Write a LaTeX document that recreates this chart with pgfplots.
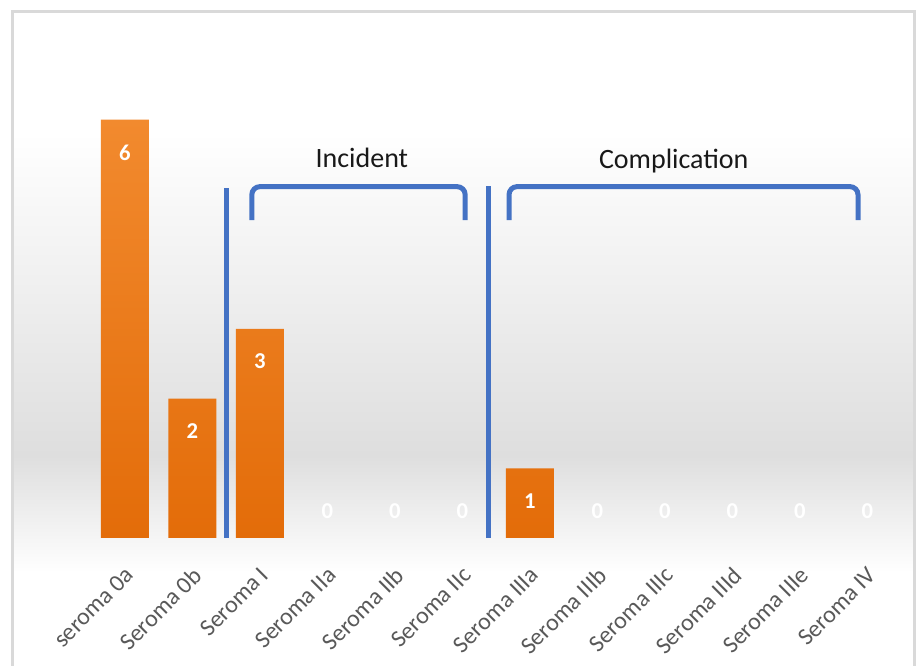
\documentclass[border=0pt]{standalone}
\usepackage{pgfplots}
\pgfplotsset{compat=1.18}
\usepackage{fontspec}
\setmainfont{Carlito}
\definecolor{barTop}{HTML}{F28A2E}
\definecolor{barBot}{HTML}{E36C09}
\definecolor{blueC}{HTML}{4472C4}
\definecolor{tickC}{HTML}{595959}
\definecolor{bgGray}{HTML}{DEDEDE}
\definecolor{frameC}{HTML}{D9D9D9}
\begin{document}
\begin{tikzpicture}
\fill[white] (0,0) rectangle (687pt,499.5pt);
\shade[top color=white, bottom color=bgGray] (9pt,158pt) rectangle (685.5pt,400pt);
\shade[top color=bgGray, bottom color=white] (9pt,70pt) rectangle (685.5pt,158pt);
\draw[frameC, line width=2.25pt] (9pt,-10pt) -- (9pt,490.5pt) -- (685.5pt,490.5pt) -- (685.5pt,-10pt);
\begin{axis}[
  at={(68.4pt,96pt)}, anchor=south west,
  scale only axis, width=607.5pt, height=366pt,
  xmin=-0.5, xmax=11.5, ymin=0, ymax=7,
  axis line style={draw=none}, tick style={draw=none},
  ytick=\empty,
  xtick={0,...,11},
  xticklabels={seroma 0a, Seroma 0b, Seroma I, Seroma IIa, Seroma IIb, Seroma IIc, Seroma IIIa, Seroma IIIb, Seroma IIIc, Seroma IIId, Seroma IIIe, Seroma IV},
  xticklabel style={rotate=45, anchor=north east, font=\fontsize{18}{20}\selectfont, text=tickC, inner sep=0pt, xshift=-15pt, yshift=-14pt},
  /pgf/number format/assume math mode=true,
  clip=false,
]
\addplot[ybar, bar width=0.711, draw=none, top color=barTop, bottom color=barBot,
  nodes near coords,
  nodes near coords style={anchor=north, yshift=-18.75pt, inner sep=0pt, text=white, font=\bfseries\fontsize{17}{20}\selectfont}]
  coordinates {(0,6) (1,2) (2,3) (6,1)};
\addplot[draw=none, mark=none,
  nodes near coords,
  nodes near coords style={anchor=south, yshift=14pt, inner sep=0pt, text=white, font=\bfseries\fontsize{17}{20}\selectfont}]
  coordinates {(3,0) (4,0) (5,0) (7,0) (8,0) (9,0) (10,0) (11,0)};
% separators
\addplot[blueC, line width=3.75pt, line cap=butt] coordinates {(1.50,0) (1.50,5.02)};
\addplot[blueC, line width=3.75pt, line cap=butt] coordinates {(5.38,0) (5.38,5.05)};
% brackets
\addplot[blueC, line width=3.75pt, rounded corners=6pt] coordinates {(1.88,4.56) (1.88,5.04) (5.04,5.04) (5.04,4.56)};
\addplot[blueC, line width=3.75pt, rounded corners=6pt] coordinates {(5.69,4.56) (5.69,5.04) (10.86,5.04) (10.86,4.56)};
\node[anchor=base, font=\fontsize{21}{25}\selectfont, text=black!90] at (axis cs:3.51,5.31) {Incident};
\node[anchor=base, font=\fontsize{21}{25}\selectfont, text=black!90] at (axis cs:8.13,5.30) {Complication};
\end{axis}
\pgfresetboundingbox
\path[use as bounding box] (0,0) rectangle (687pt,499.5pt);
\end{tikzpicture}
\end{document}
